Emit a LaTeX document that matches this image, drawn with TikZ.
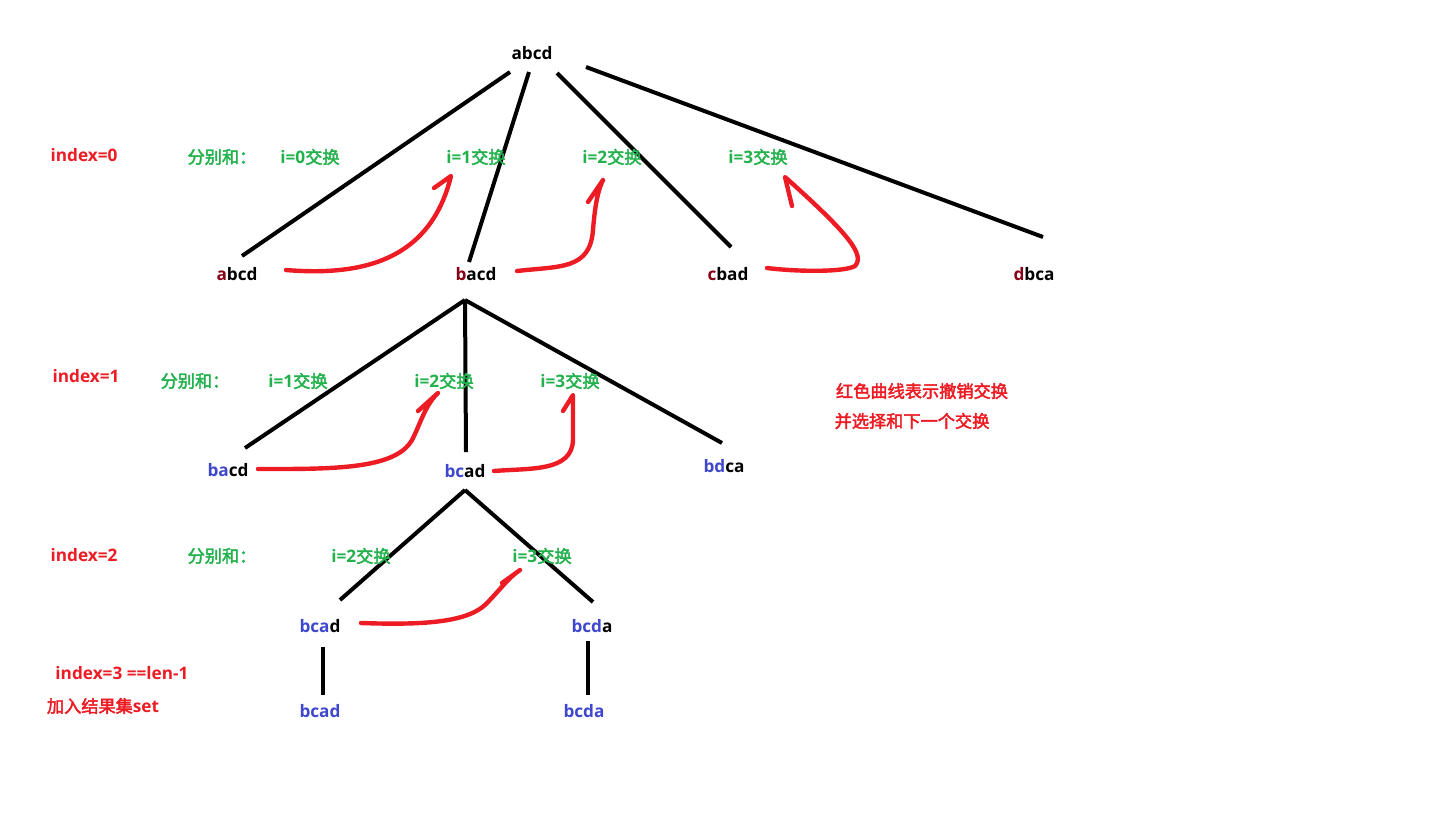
\documentclass[tikz,border=0pt]{standalone}
\usepackage{fontspec}
\setmainfont{Open Sans}
\newfontfamily\cjk{Noto Sans CJK SC}[AutoFakeBold=2.5]
\newcommand{\zh}[1]{{\cjk\bfseries #1}}
\definecolor{myred}{RGB}{237,28,36}
\definecolor{mygreen}{RGB}{34,177,76}
\definecolor{myblue}{RGB}{63,72,204}
\definecolor{drk}{RGB}{136,0,21}
\begin{document}
\begin{tikzpicture}[x=0.5pt,y=-0.5pt,
  every node/.style={font=\fontsize{8.6pt}{10pt}\selectfont\bfseries, inner sep=1pt},
  perm/.style={text=black},
  lbl/.style={text=myred},
  grn/.style={text=mygreen},
  edge/.style={line width=2pt, black},
  undo/.style={line width=2.2pt, myred, line cap=round, line join=round}]
\useasboundingbox (0,0) rectangle (1440,816);
% level 0
\node[perm] (r) at (532,53) {abcd};
\node[perm] (a1) at (237,274) {\textcolor{drk}{a}bcd};
\node[perm] (b1) at (476,274) {\textcolor{drk}{b}acd};
\node[perm] (c1) at (728,274) {\textcolor{drk}{c}bad};
\node[perm] (d1) at (1034,274) {\textcolor{drk}{d}bca};
\draw[edge] (510,72) -- (242,256);
\draw[edge] (529,72) -- (469,262);
\draw[edge] (557,73) -- (731,247);
\draw[edge] (586,67) -- (1043,237);
\node[lbl] (ix0) at (84,155) {index=0};
\node[grn] (f0) at (222,157) {\zh{分别和：}};
\node[grn] (s00) at (310,157) {i=0\zh{交换}};
\node[grn] (s01) at (476,157) {i=1\zh{交换}};
\node[grn] (s02) at (612,157) {i=2\zh{交换}};
\node[grn] (s03) at (758,157) {i=3\zh{交换}};
% red curves level 0
\coordinate (t01) at (451,176);
\draw[undo] (286,270) .. controls (360,276) and (430,262) .. (t01) -- (434,188);
\coordinate (t02) at (603,180);
\draw[undo] (517,271) .. controls (560,266) and (590,270) .. (593,230) .. controls (595,205) and (598,190) .. (t02) -- (588,202);
\coordinate (t03) at (785,177);
\draw[undo] (767,268) .. controls (800,272) and (845,272) .. (855,266) .. controls (865,255) and (850,235) .. (t03) -- (792,206);
% level 1
\coordinate (b1b) at (465,300);
\node[perm] (b2) at (228,470) {\textcolor{myblue}{ba}cd};
\node[perm] (bc2) at (465,471) {\textcolor{myblue}{bc}ad};
\node[perm] (bd2) at (724,466) {\textcolor{myblue}{bd}ca};
\draw[edge] (b1b) -- (245,448);
\draw[edge] (b1b) -- (466,452);
\draw[edge] (b1b) -- (722,443);
\node[lbl] (ix1) at (86,376) {index=1};
\node[grn] (f1) at (195,381) {\zh{分别和：}};
\node[grn] (s11) at (298,381) {i=1\zh{交换}};
\node[grn] (s12) at (444,381) {i=2\zh{交换}};
\node[grn] (s13) at (570,381) {i=3\zh{交换}};
\coordinate (t12) at (438,393);
\draw[undo] (258,469) .. controls (330,469) and (395,470) .. (412,440) .. controls (420,425) and (425,405) .. (t12) -- (418,411);
\coordinate (t13) at (573,395);
\draw[undo] (494,471) .. controls (530,468) and (572,472) .. (573,440) -- (t13) -- (563,411);
\node[lbl] (n1) at (922,391) {\zh{红色曲线表示撤销交换}};
\node[lbl] (n2) at (912,421) {\zh{并选择和下一个交换}};
% level 2
\coordinate (bcb) at (465,490);
\node[perm] (bcad) at (320,626) {\textcolor{myblue}{bca}d};
\node[perm] (bcda) at (592,626) {\textcolor{myblue}{bcd}a};
\draw[edge] (bcb) -- (340,600);
\draw[edge] (bcb) -- (593,602);
\node[lbl] (ix2) at (84,555) {index=2};
\node[grn] (f2) at (222,556) {\zh{分别和：}};
\node[grn] (s22) at (361,556) {i=2\zh{交换}};
\node[grn] (s23) at (542,556) {i=3\zh{交换}};
\coordinate (t23) at (520,570);
\draw[undo] (361,623) .. controls (420,625) and (465,623) .. (485,605) .. controls (500,590) and (508,578) .. (t23) -- (502,583);
% level 3
\node[text=myblue] (l1) at (320,711) {bcad};
\node[text=myblue] (l2) at (584,711) {bcda};
\draw[edge] (323,647) -- (323,695);
\draw[edge] (588,641) -- (588,695);
\node[lbl] (ix3) at (122,673) {index=3 ==len-1};
\node[lbl] (res) at (103,706) {\zh{加入结果集}set};
\end{tikzpicture}
\end{document}
